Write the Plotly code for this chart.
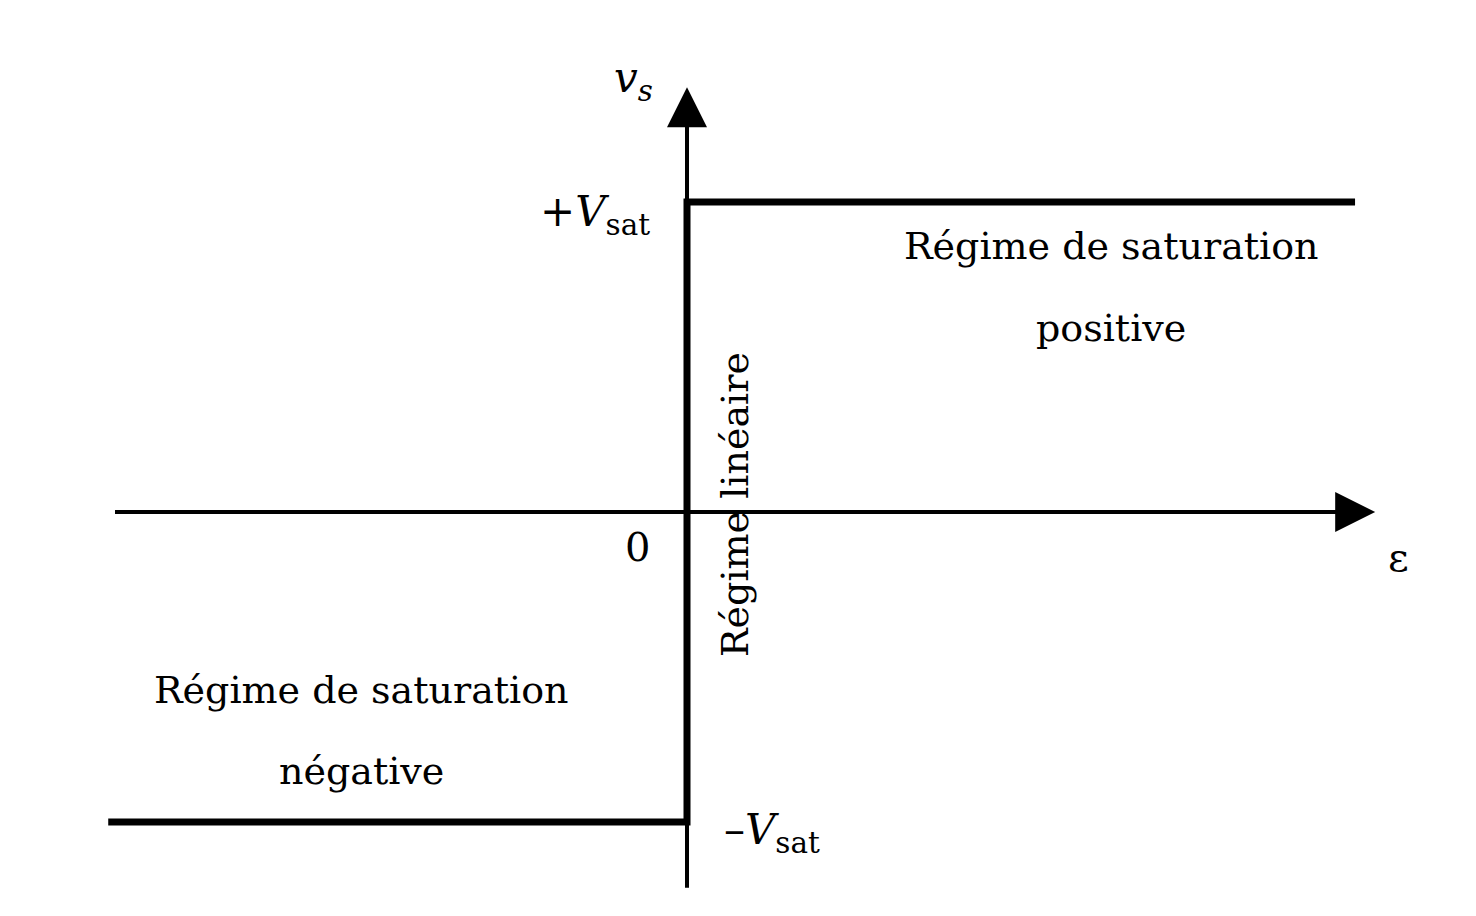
import plotly.graph_objects as go

# Transfer characteristic of an ideal op-amp (Vsat normalised to 1)
eps_values = [-1.867, 0.0, 0.0, 2.155]
vs_values = [-1.0, -1.0, 1.0, 1.0]

# Axes extents (data units)
x_axis_start, x_axis_end = -1.85, 2.22
y_axis_start, y_axis_end = -1.217, 1.37

SCALE = 310.0
OFF = 8  # page body margin
X0, Y0 = 687.0 - OFF, 512.0 - OFF
W, H = 1460, 900


def dx(px):
    return (px - OFF - X0) / SCALE


def dy(py):
    return (Y0 - (py - OFF)) / SCALE


FONT = "DejaVu Serif"

fig = go.Figure()
fig.add_trace(go.Scatter(x=eps_values, y=vs_values, mode="lines",
                         line=dict(color="black", width=7), hoverinfo="skip",
                         showlegend=False))

annotations = []
annotations.append(dict(x=x_axis_end, y=0, ax=x_axis_start, ay=0, xref="x", yref="y",
                        axref="x", ayref="y", showarrow=True, arrowhead=2,
                        arrowsize=2, arrowwidth=4, arrowcolor="black", text=""))
annotations.append(dict(x=0, y=y_axis_end, ax=0, ay=y_axis_start, xref="x", yref="y",
                        axref="x", ayref="y", showarrow=True, arrowhead=2,
                        arrowsize=2, arrowwidth=4, arrowcolor="black", text=""))


def txt(text, px, py, size=40, xanchor="center", angle=0):
    annotations.append(dict(x=dx(px), y=dy(py), xref="x", yref="y", text=text,
                            showarrow=False, xanchor=xanchor, yanchor="middle",
                            textangle=angle,
                            font=dict(family=FONT, size=size, color="black")))


txt("<i>v<sub>s</sub></i>", 633, 80, size=42)
txt("+<i>V</i><sub>sat</sub>", 652, 214, size=42, xanchor="right")
txt("0", 637, 547, size=40)
txt("ε", 1398, 557, size=40)
txt("–<i>V</i><sub>sat</sub>", 722, 832, size=42, xanchor="left")
txt("Régime de saturation", 1111, 246, size=38)
txt("positive", 1111, 328, size=38)
txt("Régime de saturation", 361, 690, size=38)
txt("négative", 361, 771, size=38)
txt("Régime linéaire", 735, 505, size=38, angle=-90)

fig.update_layout(
    width=W, height=H,
    margin=dict(l=0, r=0, t=0, b=0),
    paper_bgcolor="white", plot_bgcolor="white",
    xaxis=dict(range=[dx(OFF), dx(OFF + W)], visible=False, fixedrange=True),
    yaxis=dict(range=[dy(OFF + H), dy(OFF)], visible=False, fixedrange=True),
    annotations=annotations,
    showlegend=False,
)

fig.write_html("out.html")
